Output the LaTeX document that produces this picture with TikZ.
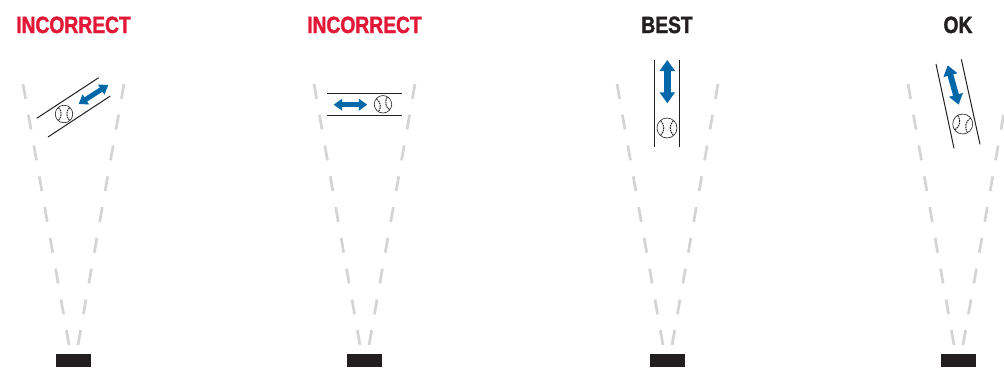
\documentclass[tikz,border=0pt]{standalone}
\usepackage{fontspec}
\setmainfont{Liberation Sans}
\newfontfamily\headfont[FakeStretch=0.82, FakeBold=1.6, UprightFont={* Bold}]{Liberation Sans}
\usetikzlibrary{arrows.meta}
\definecolor{wrongred}{HTML}{E31837}
\definecolor{rightblack}{HTML}{231F20}
\definecolor{motionblue}{HTML}{0067A9}
\definecolor{sightgray}{HTML}{D4D4D4}
% seams of a ball: name of the ball, turn, radius
\newcommand{\ballseams}[3]{
    \begin{scope}[shift={(#1.center)}, rotate=#2, seam/.style={rightblack, line width=1pt, dash pattern=on 1.6pt off 0.8pt}]
        \draw[seam] (-0.62*#3, 0.72*#3) .. controls (-0.22*#3, 0.3*#3) and (-0.22*#3, -0.3*#3) .. (-0.62*#3, -0.72*#3);
        \draw[seam] (0.62*#3, 0.72*#3) .. controls (0.22*#3, 0.3*#3) and (0.22*#3, -0.3*#3) .. (0.62*#3, -0.72*#3);
    \end{scope}
}
\begin{document}
\begin{tikzpicture}[
    x=1pt, y=-1pt,
    head/.style={font=\headfont\fontsize{23.5}{24}\selectfont, text=#1, inner sep=0pt, anchor=base},
    camera/.style={rectangle, fill=rightblack, minimum width=35pt, minimum height=13pt, inner sep=0pt},
    sight/.style={sightgray, line width=2.7pt, dash pattern=on 15pt off 16.25pt},
    rail/.style={rightblack, line width=1pt},
    ball/.style={circle, draw=rightblack, line width=0.6pt, fill=white, minimum size=#1, inner sep=0pt},
    motion/.style={{Triangle[width=#1*2.3, length=#1*1.7]}-{Triangle[width=#1*2.3, length=#1*1.7]}, motionblue, line width=#1}
]
    \useasboundingbox (0,0) rectangle (1004,367);

    % Titres
    \node[head=wrongred] (title_a) at (73.5,33) {INCORRECT};
    \node[head=wrongred] (title_b) at (364.5,33) {INCORRECT};
    \node[head=rightblack] (title_c) at (667,33) {BEST};
    \node[head=rightblack] (title_d) at (958,33) {OK};

    % Cameras
    \node[camera] (cam_a) at (73.5,360.5) {};
    \node[camera] (cam_b) at (364.5,360.5) {};
    \node[camera] (cam_c) at (667.5,360.5) {};
    \node[camera] (cam_d) at (958.5,360.5) {};

    % Limites du champ
    \coordinate (far_al) at (23,84);    \coordinate (near_al) at (69,345);
    \coordinate (far_ar) at (124,84);   \coordinate (near_ar) at (78,345);
    \coordinate (far_bl) at (314,84);   \coordinate (near_bl) at (360,345);
    \coordinate (far_br) at (415,84);   \coordinate (near_br) at (369,345);
    \coordinate (far_cl) at (617,84);   \coordinate (near_cl) at (663,345);
    \coordinate (far_cr) at (718,84);   \coordinate (near_cr) at (672,345);
    \coordinate (far_dl) at (908,84);   \coordinate (near_dl) at (954,345);
    \coordinate (far_dr) at (1009,84);  \coordinate (near_dr) at (963,345);
    \draw[sight] (far_al) -- (near_al);
    \draw[sight] (far_ar) -- (near_ar);
    \draw[sight] (far_bl) -- (near_bl);
    \draw[sight] (far_br) -- (near_br);
    \draw[sight] (far_cl) -- (near_cl);
    \draw[sight] (far_cr) -- (near_cr);
    \draw[sight] (far_dl) -- (near_dl);
    \draw[sight] (far_dr) -- (near_dr);

    % Couloir 1
    \coordinate (rail_a1) at (36.7,118.3);  \coordinate (rail_a2) at (98.7,77.7);
    \coordinate (rail_a3) at (48,137);      \coordinate (rail_a4) at (110.3,96);
    \coordinate (tip_a1) at (78.7,104);     \coordinate (tip_a2) at (108.3,85);
    \draw[rail] (rail_a1) -- (rail_a2);
    \draw[rail] (rail_a3) -- (rail_a4);
    \draw[motion=5pt] (tip_a1) -- (tip_a2);
    \node[ball=17.5pt] (ball_a) at (64,114) {};
    \ballseams{ball_a}{0}{8.7pt}

    % Couloir 2
    \coordinate (rail_b1) at (327,93);      \coordinate (rail_b2) at (401.7,93);
    \coordinate (rail_b3) at (327,115.3);   \coordinate (rail_b4) at (401.7,115.3);
    \coordinate (tip_b1) at (333.7,104.7);  \coordinate (tip_b2) at (367.3,104.7);
    \draw[rail] (rail_b1) -- (rail_b2);
    \draw[rail] (rail_b3) -- (rail_b4);
    \draw[motion=5pt] (tip_b1) -- (tip_b2);
    \node[ball=17.5pt] (ball_b) at (383,104.3) {};
    \ballseams{ball_b}{10}{8.7pt}

    % Couloir 3
    \coordinate (rail_c1) at (654.7,60);    \coordinate (rail_c2) at (654.7,147.3);
    \coordinate (rail_c3) at (679.7,60);    \coordinate (rail_c4) at (679.7,147.3);
    \coordinate (tip_c1) at (667.3,60);     \coordinate (tip_c2) at (667.3,103.3);
    \draw[rail] (rail_c1) -- (rail_c2);
    \draw[rail] (rail_c3) -- (rail_c4);
    \draw[motion=6.5pt] (tip_c1) -- (tip_c2);
    \node[ball=20pt] (ball_c) at (667,128) {};
    \ballseams{ball_c}{0}{10pt}

    % Couloir 4
    \coordinate (rail_d1) at (936,64);      \coordinate (rail_d2) at (954,148.3);
    \coordinate (rail_d3) at (961.3,59.3);  \coordinate (rail_d4) at (980,144.3);
    \coordinate (tip_d1) at (947.7,65.3);   \coordinate (tip_d2) at (958.7,104.7);
    \draw[rail] (rail_d1) -- (rail_d2);
    \draw[rail] (rail_d3) -- (rail_d4);
    \draw[motion=6pt] (tip_d1) -- (tip_d2);
    \node[ball=20pt] (ball_d) at (962.7,124) {};
    \ballseams{ball_d}{-12}{10pt}
\end{tikzpicture}
\end{document}
